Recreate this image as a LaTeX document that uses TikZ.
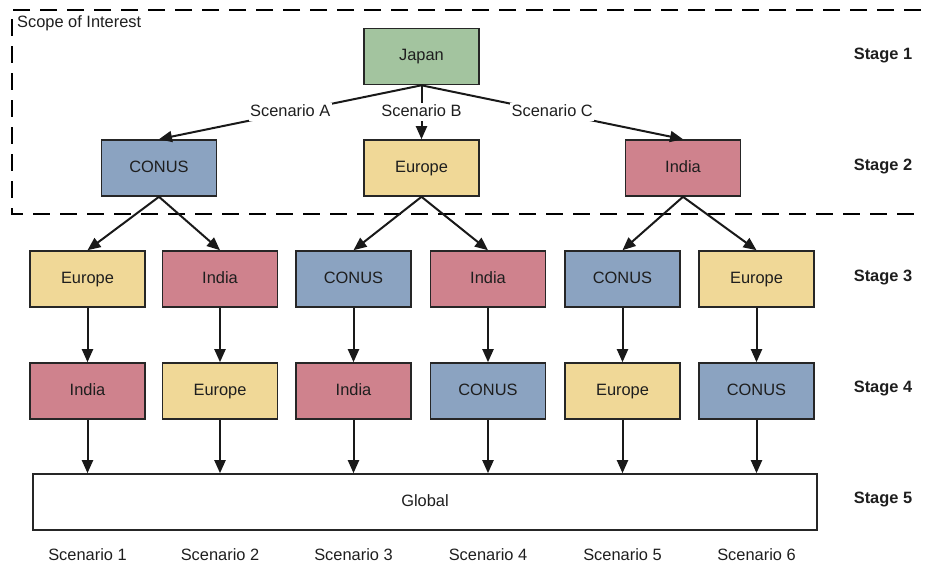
\documentclass[tikz,border=0pt]{standalone}
\usepackage{fontspec}
\setmainfont{Liberation Sans}
\usetikzlibrary{arrows.meta}
\definecolor{cgreen}{RGB}{163,196,159}
\definecolor{cblue}{RGB}{139,163,193}
\definecolor{cyellow}{RGB}{240,216,151}
\definecolor{cpink}{RGB}{207,130,141}
\definecolor{txt}{RGB}{30,30,30}
\begin{document}
\begin{tikzpicture}[x=1pt,y=-1pt,
  every node/.style={font=\fontsize{16.4}{19}\selectfont, text=txt, text height=11.8pt, text depth=3.4pt},
  region/.style={draw=black!85, line width=1.6pt, minimum width=115pt, minimum height=56pt, inner sep=0pt},
  jpbox/.style={region, fill=cgreen},
  usbox/.style={region, fill=cblue},
  eubox/.style={region, fill=cyellow},
  inbox/.style={region, fill=cpink},
  stagelbl/.style={font=\fontsize{16.4}{19}\selectfont\bfseries},
  arr/.style={line width=2pt, draw=black!90, -{Triangle[length=13pt,width=11pt]}},
  slbl/.style={fill=white, inner sep=1.5pt}
]
\useasboundingbox (0,0) rectangle (928,568);

% scope of interest
\draw[line width=2pt, dash pattern=on 17pt off 10pt] (921,10) -- (12,10) -- (12,214) -- (921,214);
\node[anchor=west, inner sep=0pt] (scope) at (17,23) {Scope of Interest};

% stage 1
\node[jpbox] (japan) at (421.5,56.5) {Japan};
% stage 2
\node[usbox] (s2a) at (159,168) {CONUS};
\node[eubox] (s2b) at (421.5,168) {Europe};
\node[inbox] (s2c) at (683,168) {India};
% stage 3
\node[eubox] (s3a) at (87.5,279) {Europe};
\node[inbox] (s3b) at (220,279) {India};
\node[usbox] (s3c) at (353.5,279) {CONUS};
\node[inbox] (s3d) at (488,279) {India};
\node[usbox] (s3e) at (622.5,279) {CONUS};
\node[eubox] (s3f) at (756.5,279) {Europe};
% stage 4
\node[inbox] (s4a) at (87.5,391) {India};
\node[eubox] (s4b) at (220,391) {Europe};
\node[inbox] (s4c) at (353.5,391) {India};
\node[usbox] (s4d) at (488,391) {CONUS};
\node[eubox] (s4e) at (622.5,391) {Europe};
\node[usbox] (s4f) at (756.5,391) {CONUS};
% stage 5
\node[region, fill=white, minimum width=784pt] (global) at (425,502) {Global};

% stage labels
\node[stagelbl] (st1) at (883,55) {Stage 1};
\node[stagelbl] (st2) at (883,166) {Stage 2};
\node[stagelbl] (st3) at (883,277) {Stage 3};
\node[stagelbl] (st4) at (883,388) {Stage 4};
\node[stagelbl] (st5) at (883,499) {Stage 5};

% scenario labels
\node (sc1) at (87.5,556) {Scenario 1};
\node (sc2) at (220,556) {Scenario 2};
\node (sc3) at (353.5,556) {Scenario 3};
\node (sc4) at (488,556) {Scenario 4};
\node (sc5) at (622.5,556) {Scenario 5};
\node (sc6) at (756.5,556) {Scenario 6};

% stage 1 -> 2
\draw[arr] (japan.south) -- node[slbl] {Scenario A} (s2a.north);
\draw[arr] (japan.south) -- node[slbl] {Scenario B} (s2b.north);
\draw[arr] (japan.south) -- node[slbl] {Scenario C} (s2c.north);
% stage 2 -> 3
\draw[arr] (s2a.south) -- (s3a.north);
\draw[arr] (s2a.south) -- (s3b.north);
\draw[arr] (s2b.south) -- (s3c.north);
\draw[arr] (s2b.south) -- (s3d.north);
\draw[arr] (s2c.south) -- (s3e.north);
\draw[arr] (s2c.south) -- (s3f.north);
% stage 3 -> 4 -> 5
\foreach \a in {a,b,c,d,e,f}{
  \draw[arr] (s3\a.south) -- (s4\a.north);
  \draw[arr] (s4\a.south) -- (s4\a.south |- global.north);
}
\end{tikzpicture}
\end{document}
